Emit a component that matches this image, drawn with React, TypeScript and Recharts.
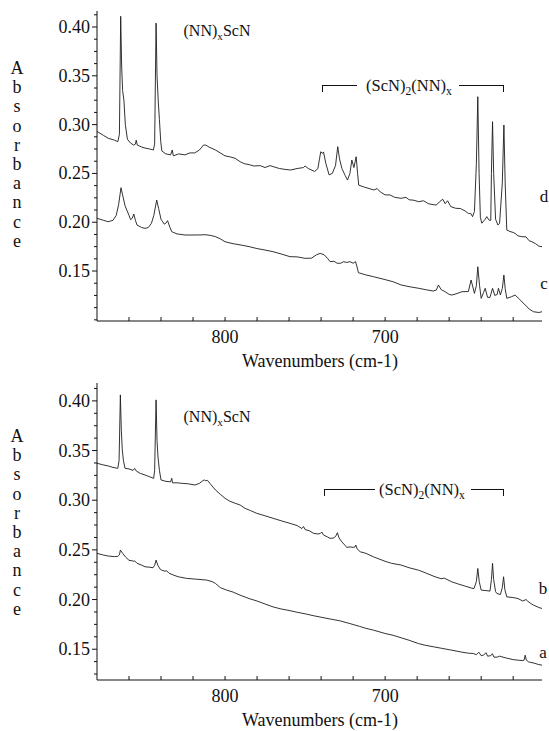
import React from 'react';
import { LineChart, Line, XAxis, YAxis } from 'recharts';

// wavenumber (cm-1), absorbance
const SPECTRUM_D: [number, number][] = [
  [880, 0.293], [876, 0.289], [873, 0.286], [869, 0.284], [867, 0.2825], [866, 0.29], [865.2, 0.411],
  [864.6, 0.36], [864, 0.335], [863.2, 0.325], [862.3, 0.3], [861, 0.285], [859, 0.281], [857, 0.279],
  [856, 0.28], [855.5, 0.284], [854.8, 0.279], [852, 0.277], [850, 0.276], [847, 0.275], [844.8, 0.274],
  [844, 0.28], [843.1, 0.404], [842.5, 0.35], [841.7, 0.323], [841, 0.305], [840.2, 0.283], [839.5, 0.273],
  [837, 0.27], [834, 0.269], [833, 0.274], [832.3, 0.268], [829, 0.27], [825, 0.269], [822, 0.271],
  [819, 0.271], [816, 0.274], [813.5, 0.279], [812, 0.279], [810, 0.277], [806, 0.274], [803, 0.271],
  [800, 0.268], [797, 0.267], [793.7, 0.2655], [790.6, 0.262], [788, 0.26], [785, 0.259], [782, 0.2576],
  [778, 0.258], [775, 0.256], [772, 0.258], [770, 0.257], [766, 0.255], [762, 0.254], [759, 0.2535],
  [755, 0.255], [751, 0.256], [750, 0.2576], [748, 0.255], [744, 0.252], [742, 0.255], [741, 0.265],
  [740.2, 0.2722], [739.2, 0.2705], [738.5, 0.272], [737, 0.26], [735, 0.2485], [733, 0.25], [731, 0.258],
  [729.6, 0.2774], [728.5, 0.265], [727, 0.255], [725, 0.248], [723.5, 0.2432], [722, 0.25], [720.8, 0.2637],
  [719.5, 0.256], [718.1, 0.2671], [717.2, 0.25], [716.5, 0.238], [713, 0.236], [710, 0.2345], [707, 0.233],
  [705, 0.2345], [703, 0.231], [700, 0.228], [697, 0.228], [694, 0.2255], [690, 0.2245], [687, 0.2255],
  [685, 0.223], [682, 0.2225], [679, 0.221], [676, 0.222], [673, 0.219], [670, 0.218], [668, 0.2176],
  [666, 0.221], [664, 0.2235], [662.5, 0.219], [661, 0.222], [659, 0.216], [656, 0.2143], [653, 0.214],
  [650, 0.2115], [648, 0.209], [646.5, 0.209], [645.4, 0.2057], [644.2, 0.211], [643, 0.26], [642.1, 0.3286],
  [641.3, 0.25], [640.5, 0.205], [639.6, 0.199], [637.5, 0.203], [636.5, 0.2057], [635, 0.202], [634, 0.202],
  [633.6, 0.25], [632.9, 0.303], [632.2, 0.25], [631, 0.203], [629.5, 0.1971], [628.5, 0.199], [626.8, 0.24],
  [625.8, 0.2996], [625, 0.24], [624, 0.192], [622, 0.1905], [620, 0.1895], [618.8, 0.1886], [617, 0.186],
  [614.6, 0.1852], [612, 0.185], [610, 0.181], [608.3, 0.18], [606, 0.178], [604, 0.1755], [602, 0.1749],
];

const SPECTRUM_C: [number, number][] = [
  [880, 0.204], [876, 0.202], [873, 0.2005], [870, 0.202], [868, 0.207], [866.5, 0.218], [865, 0.2354],
  [864, 0.228], [862.5, 0.217], [861.4, 0.2125], [860, 0.207], [859, 0.2026], [858, 0.204], [857, 0.2084],
  [856, 0.202], [855, 0.1971], [852, 0.1945], [850, 0.1937], [848, 0.1945], [846, 0.1989], [844.5, 0.207],
  [842.7, 0.2227], [841.5, 0.214], [840, 0.203], [839, 0.2005], [838, 0.198], [837, 0.199], [835.9, 0.2016],
  [834.5, 0.195], [833.3, 0.1903], [830, 0.188], [825, 0.1869], [820, 0.1869], [815, 0.187], [812.5, 0.1872],
  [809, 0.1865], [806, 0.1852], [803, 0.183], [800, 0.18], [795, 0.178], [790, 0.1766], [785, 0.175],
  [780, 0.173], [775, 0.1715], [770, 0.1698], [765, 0.1675], [759.4, 0.1647], [755, 0.1645], [750, 0.163],
  [746, 0.1632], [743, 0.1665], [740.6, 0.1681], [738, 0.1665], [736, 0.163], [734.4, 0.1596], [732, 0.16],
  [730, 0.158], [728, 0.1579], [726, 0.1595], [724, 0.1588], [722, 0.1596], [720, 0.158], [718.5, 0.1596],
  [717.5, 0.154], [716.7, 0.1483], [712, 0.146], [707.3, 0.1442], [700, 0.1412], [695, 0.139], [690, 0.1357],
  [685, 0.134], [679, 0.1323], [675, 0.131], [670, 0.1295], [668, 0.1305], [666.7, 0.1357], [665, 0.131],
  [662.5, 0.1288], [660, 0.126], [658.3, 0.1254], [655, 0.127], [652, 0.1288], [648, 0.129], [646.3, 0.1408],
  [644.2, 0.1271], [643, 0.135], [642.1, 0.1544], [641, 0.135], [640, 0.122], [638.5, 0.128], [637.5, 0.1323],
  [636, 0.123], [634.5, 0.123], [632.9, 0.1323], [631.5, 0.125], [630, 0.126], [629.2, 0.1323], [628, 0.1255],
  [626.8, 0.132], [625.8, 0.1459], [625, 0.132], [624, 0.122], [621, 0.1237], [618.8, 0.1254], [616, 0.121],
  [612.5, 0.1152], [610, 0.111], [607.3, 0.1083], [604, 0.1075], [602, 0.1083],
];

const SPECTRUM_B: [number, number][] = [
  [880, 0.3372], [876, 0.3355], [873, 0.3345], [870, 0.333], [867, 0.3321], [866.2, 0.34], [865.4, 0.406],
  [864.8, 0.37], [864.2, 0.3506], [863.5, 0.34], [862.5, 0.3321], [860, 0.3315], [857.5, 0.33], [856.5, 0.332],
  [855.5, 0.3295], [853, 0.327], [850, 0.3254], [847, 0.3235], [844.6, 0.322], [844, 0.33], [843.1, 0.401],
  [842.5, 0.36], [841.9, 0.3435], [841, 0.33], [840, 0.3204], [837, 0.319], [834, 0.3185], [833.3, 0.322],
  [832.8, 0.3175], [830, 0.3175], [827, 0.317], [823, 0.3165], [818.8, 0.3153], [816, 0.317], [814, 0.3195],
  [813, 0.3204], [812, 0.3195], [811, 0.32], [809, 0.316], [806, 0.3103], [803, 0.306], [800, 0.3019],
  [797, 0.299], [793.7, 0.2969], [790.6, 0.2952], [787.5, 0.2918], [784, 0.2895], [780.2, 0.2868],
  [775, 0.2843], [770, 0.2818], [765, 0.2793], [759.4, 0.2767], [755, 0.2745], [752, 0.2715], [751, 0.2735],
  [750, 0.2705], [747, 0.269], [744.8, 0.2667], [742, 0.266], [740.5, 0.2665], [739.6, 0.268], [738.5, 0.265],
  [736, 0.263], [734.4, 0.2616], [732, 0.262], [730.8, 0.264], [729.8, 0.2673], [728.8, 0.262], [727, 0.258],
  [725, 0.2545], [724, 0.2525], [722, 0.253], [720, 0.2525], [718.8, 0.253], [718.3, 0.2548], [717.5, 0.251],
  [715.6, 0.2481], [712, 0.2465], [707.3, 0.243], [700, 0.2385], [696, 0.2365], [690, 0.2347], [685, 0.232],
  [679.2, 0.2296], [675, 0.227], [668.8, 0.2229], [665, 0.221], [663, 0.2215], [658.3, 0.2178], [655, 0.216],
  [650, 0.2135], [646, 0.2115], [644.5, 0.211], [643, 0.218], [642.1, 0.2313], [641.2, 0.218], [640, 0.2095],
  [637, 0.209], [634.5, 0.2085], [633.6, 0.22], [632.9, 0.2364], [632.2, 0.22], [631, 0.208], [630.2, 0.2061],
  [628, 0.205], [626.8, 0.212], [626, 0.2229], [625.2, 0.21], [624, 0.2027], [620, 0.202], [617, 0.201],
  [614, 0.1985], [612, 0.2], [611, 0.1985], [609, 0.196], [607.3, 0.1944], [604, 0.192], [602, 0.191],
];

const SPECTRUM_A: [number, number][] = [
  [880, 0.2465], [876, 0.2448], [873, 0.2438], [869, 0.2432], [867, 0.2435], [866, 0.245], [865.4, 0.2498],
  [864, 0.2465], [862, 0.2425], [860, 0.2395], [858, 0.239], [857, 0.2385], [856.5, 0.239], [855, 0.2365],
  [852, 0.2345], [850, 0.233], [847, 0.2325], [845, 0.232], [844, 0.2345], [843.1, 0.2397], [842, 0.2345],
  [840.5, 0.2305], [839.6, 0.2296], [837.5, 0.2285], [836.5, 0.229], [835, 0.2265], [832, 0.2245],
  [829.2, 0.2229], [824, 0.2213], [818, 0.2205], [811.5, 0.2196], [808, 0.218], [806, 0.2162], [803, 0.212],
  [799, 0.2095], [795, 0.2075], [790.6, 0.2044], [785, 0.201], [780, 0.1985], [775, 0.1955], [770, 0.1926],
  [765, 0.1905], [760, 0.189], [755, 0.1872], [749, 0.1853], [745, 0.1838], [740, 0.1822], [735, 0.1806],
  [728, 0.1785], [722, 0.1758], [716, 0.173], [712, 0.171], [707.3, 0.1692], [700, 0.1658], [695, 0.164],
  [690, 0.1615], [685, 0.159], [679.2, 0.1557], [675, 0.154], [670, 0.1525], [665, 0.151], [660, 0.1495],
  [658.3, 0.149], [652, 0.147], [648, 0.146], [645, 0.1457], [643, 0.1445], [641.5, 0.147], [640, 0.1435],
  [638.5, 0.144], [637, 0.1465], [636, 0.143], [634, 0.1435], [633, 0.1455], [632, 0.142], [630, 0.142],
  [628.5, 0.143], [627, 0.1423], [624, 0.141], [620, 0.1395], [616.7, 0.1389], [614, 0.1385], [613.2, 0.139],
  [612.5, 0.144], [611.8, 0.139], [610.5, 0.1373], [607, 0.136], [604, 0.1345], [602, 0.1339],
];

const X_TICKS = [860, 840, 820, 800, 780, 760, 740, 720, 700, 680, 660, 640, 620];
const X_LABELS = [800, 700];
const Y_MAJOR = [0.15, 0.2, 0.25, 0.3, 0.35, 0.4];
const Y_TICKS_TOP = [0.1, 0.1125, 0.125, 0.1375, 0.15, 0.1625, 0.175, 0.1875, 0.2, 0.2125, 0.225, 0.2375, 0.25,
  0.2625, 0.275, 0.2875, 0.3, 0.3125, 0.325, 0.3375, 0.35, 0.3625, 0.375, 0.3875, 0.4, 0.4125];
const Y_TICKS_BOTTOM = Y_TICKS_TOP.filter((t) => t > 0.12);

const FONT = '"Liberation Serif", "DejaVu Serif", "Times New Roman", serif';
const INK = '#111';
const TRACE = '#1c1c1c';

const toRows = (s: [number, number][]) => s.map(([wn, a]) => ({ wn, a }));

function XTick(props: any) {
  const { x, y, payload } = props;
  const v = payload.value;
  return (
    <g>
      <line x1={x} x2={x} y1={y} y2={y - 4} stroke={INK} strokeWidth={1} />
      {X_LABELS.includes(v) && (
        <text x={x} y={y + 16} textAnchor="middle" dominantBaseline="central" fontSize={18} fontFamily={FONT} fill={INK}>
          {v}
        </text>
      )}
    </g>
  );
}

function YTick(props: any) {
  const { x, y, payload } = props;
  const v = payload.value;
  const major = Y_MAJOR.some((m) => Math.abs(m - v) < 1e-6);
  return (
    <g>
      <line x1={x} x2={x - (major ? 5 : 3)} y1={y} y2={y} stroke={INK} strokeWidth={1} />
      {major && (
        <text x={x - 7} y={y} textAnchor="end" dominantBaseline="central" fontSize={18} fontFamily={FONT} fill={INK}>
          {v.toFixed(2)}
        </text>
      )}
    </g>
  );
}

function Panel({ series, yDomain, yTicks, height, top, bottom }: any) {
  return (
    <LineChart width={549} height={height} margin={{ top, right: 7, left: 0, bottom }}>
      <XAxis
        type="number"
        dataKey="wn"
        domain={[602, 880]}
        reversed
        allowDataOverflow
        ticks={X_TICKS}
        interval={0}
        tickSize={0}
        tickMargin={0}
        tick={XTick}
        height={40}
        axisLine={{ stroke: INK }}
      />
      <YAxis
        type="number"
        domain={yDomain}
        allowDataOverflow
        ticks={yTicks}
        interval={0}
        tickSize={0}
        tickMargin={0}
        tick={YTick}
        width={97}
        axisLine={{ stroke: INK }}
      />
      {series.map((s: [number, number][], i: number) => (
        <Line
          key={i}
          data={toRows(s)}
          dataKey="a"
          type="linear"
          stroke={TRACE}
          strokeWidth={0.9}
          dot={false}
          activeDot={false}
          isAnimationActive={false}
        />
      ))}
    </LineChart>
  );
}

function Txt({ x, y, size = 17, children }: any) {
  return (
    <div
      style={{
        position: 'absolute',
        left: x,
        top: y,
        transform: 'translate(-50%, -50%)',
        fontFamily: FONT,
        fontSize: size,
        lineHeight: 1,
        color: INK,
        whiteSpace: 'nowrap',
      }}
    >
      {children}
    </div>
  );
}

const Sub = ({ children }: any) => (
  <span style={{ fontSize: '0.7em', position: 'relative', top: '0.35em' }}>{children}</span>
);

function Bracket({ left, right, y, tick }: any) {
  return (
    <>
      <div style={{ position: 'absolute', left: left[0], top: y, width: left[1] - left[0], height: tick, borderTop: `1px solid ${INK}`, borderLeft: `1px solid ${INK}` }} />
      <div style={{ position: 'absolute', left: right[0], top: y, width: right[1] - right[0], height: tick, borderTop: `1px solid ${INK}`, borderRight: `1px solid ${INK}` }} />
    </>
  );
}

function YLabel({ x, y0, step }: any) {
  return (
    <>
      {'Absorbance'.split('').map((ch, i) => (
        <Txt key={i} x={x} y={y0 + i * step} size={18}>
          {ch}
        </Txt>
      ))}
    </>
  );
}

export default function App() {
  return (
    <div style={{ position: 'absolute', left: 0, top: 0, width: 549, height: 731, background: '#fff', overflow: 'hidden' }}>
      <div style={{ position: 'absolute', left: 0, top: 0 }}>
        <Panel series={[SPECTRUM_D, SPECTRUM_C]} yDomain={[0.0988, 0.4164]} yTicks={Y_TICKS_TOP} height={365} top={11} bottom={4} />
      </div>
      <div style={{ position: 'absolute', left: 0, top: 365 }}>
        <Panel series={[SPECTRUM_B, SPECTRUM_A]} yDomain={[0.119, 0.418]} yTicks={Y_TICKS_BOTTOM} height={366} top={18} bottom={11} />
      </div>

      <YLabel x={17} y0={68} step={19.2} />
      <YLabel x={17} y0={436} step={19.2} />

      <Txt x={320} y={361} size={18}>Wavenumbers (cm-1)</Txt>
      <Txt x={320} y={720} size={18}>Wavenumbers (cm-1)</Txt>

      <Txt x={217} y={31} size={16}>(NN)<Sub>x</Sub>ScN</Txt>
      <Txt x={217} y={417} size={16}>(NN)<Sub>x</Sub>ScN</Txt>

      <Bracket left={[322, 356]} right={[459, 503]} y={85} tick={6} />
      <Txt x={409} y={86} size={16.5}>(ScN)<Sub>2</Sub>(NN)<Sub>x</Sub></Txt>

      <Bracket left={[324, 374]} right={[471, 503]} y={489} tick={6} />
      <Txt x={422} y={490} size={16.5}>(ScN)<Sub>2</Sub>(NN)<Sub>x</Sub></Txt>

      <Txt x={544} y={196} size={17}>d</Txt>
      <Txt x={544} y={283} size={17}>c</Txt>
      <Txt x={543} y={588} size={17}>b</Txt>
      <Txt x={543} y={652} size={17}>a</Txt>
    </div>
  );
}
